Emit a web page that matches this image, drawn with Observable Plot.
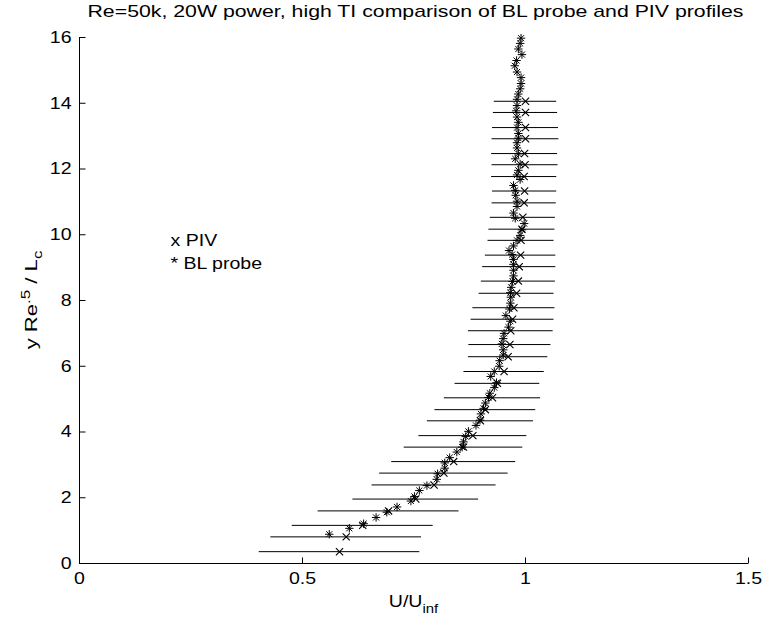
<!DOCTYPE html>
<html><head><meta charset="utf-8">
<script src="https://cdn.jsdelivr.net/npm/d3@7"></script>
<script src="https://cdn.jsdelivr.net/npm/@observablehq/plot@0.6"></script>
<style>
body{margin:0;background:#fff;width:766px;height:626px;overflow:hidden;}
</style></head><body>
<div id="chart"></div>
<script>
// ---- data ----
const titleText = "Re=50k, 20W power, high TI comparison of BL probe and PIV profiles";
const xDomain = [0, 1.5];
const yDomain = [0, 16];
const xTicks = [0, 0.5, 1, 1.5];
const yTicks = [0, 2, 4, 6, 8, 10, 12, 14, 16];
const legendLabels = ["x PIV", "* BL probe"];

// PIV profile: wall-normal position, velocity, half-width of horizontal error bar
const pivY = [0.36, 0.81, 1.16, 1.60, 1.96, 2.39, 2.75, 3.10, 3.54, 3.89, 4.34, 4.68, 5.04, 5.48, 5.84, 6.29, 6.66, 7.08, 7.43, 7.78, 8.22, 8.59, 9.03, 9.38, 9.83, 10.17, 10.53, 10.97, 11.33, 11.77, 12.13, 12.47, 12.92, 13.26, 13.72, 14.06];
const pivU = [0.583, 0.598, 0.635, 0.693, 0.754, 0.795, 0.817, 0.839, 0.861, 0.882, 0.899, 0.910, 0.926, 0.937, 0.952, 0.961, 0.965, 0.967, 0.971, 0.974, 0.980, 0.984, 0.986, 0.989, 0.990, 0.992, 0.994, 0.997, 0.998, 0.997, 0.999, 0.998, 1.000, 1.000, 1.000, 1.000];
const pivErr = [0.180, 0.169, 0.158, 0.158, 0.141, 0.139, 0.144, 0.139, 0.133, 0.121, 0.119, 0.113, 0.108, 0.095, 0.090, 0.089, 0.092, 0.095, 0.093, 0.092, 0.084, 0.083, 0.082, 0.079, 0.074, 0.074, 0.073, 0.072, 0.072, 0.073, 0.074, 0.074, 0.075, 0.074, 0.072, 0.070];

// BL probe profile
const blY = [0.89, 1.07, 1.21, 1.40, 1.56, 1.72, 1.90, 2.04, 2.22, 2.37, 2.56, 2.73, 2.90, 3.06, 3.22, 3.39, 3.54, 3.70, 3.86, 4.02, 4.20, 4.36, 4.55, 4.72, 4.88, 5.05, 5.18, 5.35, 5.50, 5.69, 5.84, 6.00, 6.17, 6.34, 6.50, 6.68, 6.84, 7.00, 7.19, 7.37, 7.54, 7.74, 7.92, 8.10, 8.24, 8.40, 8.58, 8.75, 8.92, 9.10, 9.25, 9.40, 9.52, 9.66, 9.83, 9.98, 10.15, 10.34, 10.50, 10.66, 10.86, 11.02, 11.20, 11.35, 11.50, 11.68, 11.82, 11.96, 12.15, 12.31, 12.46, 12.64, 12.80, 12.94, 13.08, 13.26, 13.42, 13.58, 13.77, 13.93, 14.12, 14.28, 14.44, 14.60, 14.78, 14.95, 15.14, 15.30, 15.48, 15.65, 15.82, 15.98];
const blU = [0.560, 0.605, 0.637, 0.665, 0.689, 0.712, 0.743, 0.751, 0.762, 0.779, 0.801, 0.803, 0.819, 0.819, 0.830, 0.846, 0.858, 0.861, 0.866, 0.872, 0.889, 0.898, 0.900, 0.906, 0.910, 0.917, 0.920, 0.930, 0.935, 0.922, 0.930, 0.941, 0.942, 0.950, 0.950, 0.947, 0.950, 0.952, 0.962, 0.966, 0.956, 0.964, 0.966, 0.967, 0.966, 0.968, 0.971, 0.973, 0.973, 0.973, 0.973, 0.970, 0.963, 0.973, 0.981, 0.988, 0.992, 0.997, 0.977, 0.973, 0.981, 0.981, 0.978, 0.977, 0.973, 0.988, 0.981, 0.984, 0.988, 0.977, 0.984, 0.981, 0.981, 0.984, 0.984, 0.981, 0.984, 0.981, 0.979, 0.981, 0.981, 0.984, 0.988, 0.990, 0.990, 0.981, 0.976, 0.980, 0.992, 0.984, 0.988, 0.990];

const piv = pivY.map((y, i) => ({y, u: pivU[i], lo: pivU[i] - pivErr[i], hi: pivU[i] + pivErr[i]}));
const bl = blY.map((y, i) => ({y, u: blU[i]}));

// MATLAB-like marker shapes
const timesSym = {draw(ctx, size) { const r = Math.sqrt(size / Math.PI);
  ctx.moveTo(-r, -r); ctx.lineTo(r, r); ctx.moveTo(-r, r); ctx.lineTo(r, -r); }};
const starSym = {draw(ctx, size) { const r = Math.sqrt(size / Math.PI), d = r * 0.72;
  ctx.moveTo(0, -r); ctx.lineTo(0, r); ctx.moveTo(-r, 0); ctx.lineTo(r, 0);
  ctx.moveTo(-d, -d); ctx.lineTo(d, d); ctx.moveTo(-d, d); ctx.lineTo(d, -d); }};
// inward tick marks (MATLAB style): short strokes pointing into the plot area
const TICK = 6;
const tickUp = {draw(ctx) { ctx.moveTo(0, 0); ctx.lineTo(0, -TICK); }};
const tickRight = {draw(ctx) { ctx.moveTo(0, 0); ctx.lineTo(TICK, 0); }};

const FONT = '"Liberation Sans", Arial, Helvetica, sans-serif';
const plot = Plot.plot({
  width: 766, height: 626,
  marginLeft: 79, marginRight: 18, marginTop: 37, marginBottom: 63,
  style: {fontFamily: FONT, fontSize: "17px", color: "black", background: "white", overflow: "visible"},
  x: {domain: xDomain, label: null},
  y: {domain: yDomain, label: null},
  marks: [
    Plot.ruleY(piv, {y: "y", x1: "lo", x2: "hi", stroke: "black", strokeWidth: 1}),
    Plot.dot(piv, {x: "u", y: "y", symbol: timesSym, r: 3.6, stroke: "black", fill: "none", strokeWidth: 1.1}),
    Plot.dot(bl, {x: "u", y: "y", symbol: starSym, r: 4.2, stroke: "black", fill: "none", strokeWidth: 1}),
    Plot.ruleX([xDomain[0]], {stroke: "black"}),
    Plot.ruleY([yDomain[0]], {stroke: "black"}),
    Plot.dot(xTicks, {x: d => d, y: yDomain[0], symbol: tickUp, stroke: "black", fill: "none", strokeWidth: 1}),
    Plot.dot(yTicks, {x: xDomain[0], y: d => d, symbol: tickRight, stroke: "black", fill: "none", strokeWidth: 1}),
    Plot.axisX({ticks: xTicks, tickSize: 0, tickPadding: 8, tickFormat: d => String(d), label: null}),
    Plot.axisY({ticks: yTicks, tickSize: 0, tickPadding: 8, tickFormat: d => String(d), label: null}),
    Plot.text([legendLabels[0]], {text: d => d, frameAnchor: "top-left", dx: 91, dy: 196, textAnchor: "start"}),
    Plot.text([legendLabels[1]], {text: d => d, frameAnchor: "top-left", dx: 91, dy: 219, textAnchor: "start"})
  ]
});
document.getElementById("chart").appendChild(plot);

// widen glyphs slightly, as in the reference rendering
plot.querySelectorAll("text").forEach(t => {
  const tr = t.getAttribute("transform");
  t.setAttribute("transform", (tr ? tr + " " : "") + "scale(1.15,1)");
});

const svg = d3.select(plot);
const xs = plot.scale("x"), ys = plot.scale("y");
const xc = (xs.apply(xDomain[0]) + xs.apply(xDomain[1])) / 2;
const yc = (ys.apply(yDomain[0]) + ys.apply(yDomain[1])) / 2;

// title
svg.append("text")
  .attr("x", xc + 2).attr("y", 17)
  .attr("text-anchor", "middle")
  .attr("font-family", FONT).attr("font-size", 17).attr("fill", "black")
  .attr("textLength", 656).attr("lengthAdjust", "spacingAndGlyphs")
  .text(titleText);

// x label: U/U_inf
const xl = svg.append("text")
  .attr("transform", `translate(${xc},607) scale(1.15,1)`)
  .attr("text-anchor", "middle")
  .attr("font-family", FONT).attr("font-size", 17).attr("fill", "black");
xl.append("tspan").text("U/U");
xl.append("tspan").attr("dy", 6).attr("font-size", 13).text("inf");

// y label: y Re^.5 / L_c
const yl = svg.append("text")
  .attr("transform", `translate(37,${yc}) rotate(-90) scale(1.3,1)`)
  .attr("text-anchor", "middle")
  .attr("font-family", FONT).attr("font-size", 17).attr("fill", "black");
yl.append("tspan").text("y Re");
yl.append("tspan").attr("dy", -7).attr("font-size", 13).text(".5");
yl.append("tspan").attr("dy", 7).text(" / L");
yl.append("tspan").attr("dy", 5).attr("font-size", 13).text("c");
</script>
</body></html>
